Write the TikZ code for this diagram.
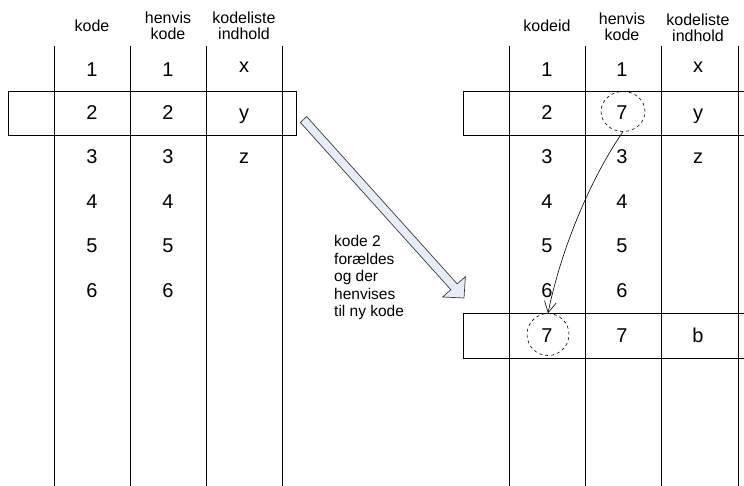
\documentclass[tikz,border=0pt]{standalone}
\usepackage{fontspec}
\setmainfont{Liberation Sans}
\usetikzlibrary{arrows.meta,shapes.geometric}
\definecolor{arrowfill}{HTML}{E6EDF8}
\definecolor{arrowline}{HTML}{3A3A3A}
\tikzset{
  grid/.style={draw=black, line width=0.8pt},
  rowbox/.style={draw=black, line width=0.8pt, fill=none},
  cell/.style={inner sep=0pt, anchor=base, font=\fontsize{20}{20}\selectfont},
  head/.style={inner sep=0pt, align=center, font=\fontsize{16}{16}\selectfont},
  note/.style={inner sep=0pt, align=left, anchor=north west, font=\fontsize{15.5}{17.5}\selectfont},
  ring/.style={draw=black, dashed, line width=0.6pt, ellipse, inner sep=0pt},
  link/.style={draw=black, line width=0.6pt, -{Straight Barb[length=11pt,width=12pt]}}
}
\begin{document}
\begin{tikzpicture}[x=1pt, y=-1pt]
\useasboundingbox (0,0) rectangle (744,486);

% ---------- left table ----------
\draw[rowbox] (8,91) rectangle (296,135);
\foreach \x in {54,130,206,282} \draw[grid] (\x,46) -- (\x,486);

\node[head] (lh1) at (92,26) {kode};
\node[head] (lh2) at (168,26) {henvis\\kode};
\node[head] (lh3) at (244,26) {kodeliste\\indhold};

\foreach \n/\y in {1/77,2/120,3/164,4/209,5/253,6/298} {
  \node[cell] (la\n) at (92,\y) {\n};
  \node[cell] (lb\n) at (168,\y) {\n};
}
\node[cell] (lcx) at (244,73) {x};
\node[cell] (lcy) at (244,120) {y};
\node[cell] (lcz) at (244,164) {z};

% ---------- right table ----------
\draw[rowbox] (463,91) -- (744,91) (744,135) -- (463,135) -- (463,91);
\draw[rowbox] (463,313) -- (744,313) (744,358) -- (463,358) -- (463,313);
\foreach \x in {509,585,661,738} \draw[grid] (\x,46) -- (\x,486);

\node[head] (rh1) at (547,25.5) {kodeid};
\node[head] (rh2) at (622,26.5) {henvis\\kode};
\node[head] (rh3) at (698,27.5) {kodeliste\\indhold};

\foreach \n/\y in {1/77,3/164,4/209,5/253,6/298} {
  \node[cell] (ra\n) at (547,\y) {\n};
  \node[cell] (rb\n) at (622,\y) {\n};
}
\node[cell] (ra2) at (547,120) {2};
\node[cell] (rb2) at (622,120) {7};
\node[cell] (ra7) at (547,342) {7};
\node[cell] (rb7) at (622,342) {7};
\node[cell] (rcx) at (698,73) {x};
\node[cell] (rcy) at (698,120) {y};
\node[cell] (rcz) at (698,164) {z};
\node[cell] (rcb) at (698,342) {b};

% dashed rings round the new reference and the new code
\node[ring, minimum width=44pt, minimum height=40pt] (ringtop) at (623,111.5) {};
\node[ring, minimum width=42pt, minimum height=42pt] (ringbot) at (548,334.5) {};

% reference from the old row to the new code
\draw[link] (ringtop.south) .. controls (596,170) and (563,240) .. (ringbot.north);

% ---------- block arrow between the tables ----------
\draw[draw=arrowline, fill=arrowfill, line width=0.7pt, line join=miter]
  (306.7,116.6) -- (457.2,283.9) -- (465.4,276.6) -- (464,298)
  -- (442.6,297.0) -- (450.8,289.7) -- (300.3,122.4) -- cycle;

\node[note] (note) at (334,235.5) {kode 2\\forældes\\og der\\henvises\\til ny kode};
\end{tikzpicture}
\end{document}
